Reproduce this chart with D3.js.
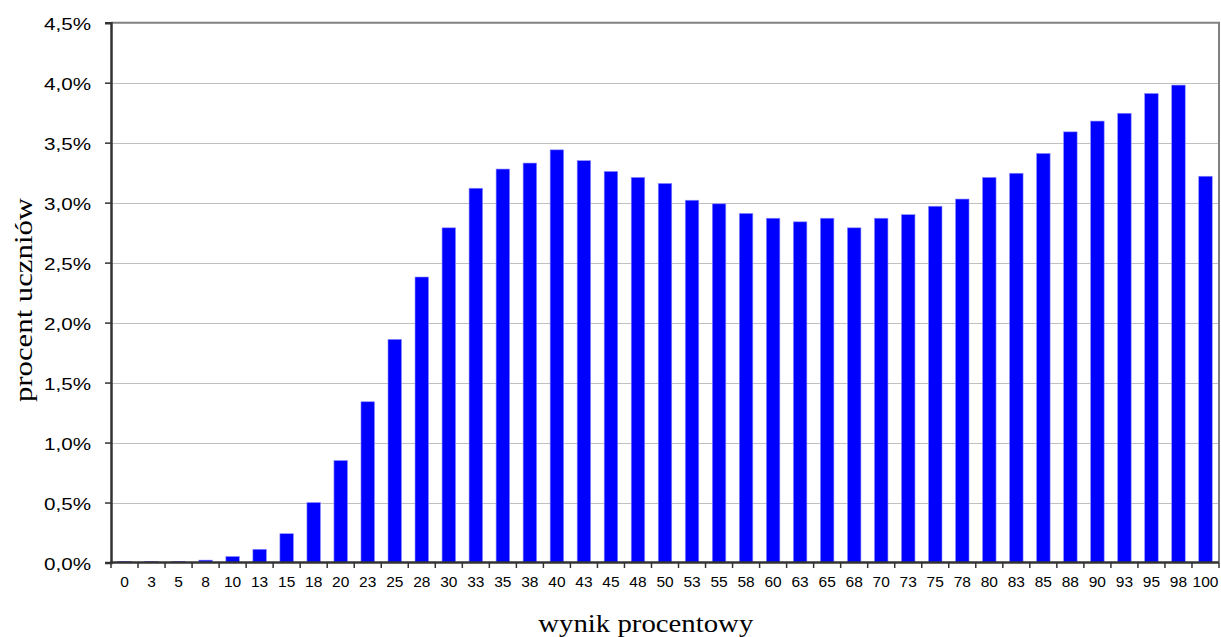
<!DOCTYPE html>
<html>
<head>
<meta charset="utf-8">
<script src="https://cdn.jsdelivr.net/npm/d3@7"></script>
<style>
  html, body { margin: 0; padding: 0; background: #fff; }
  svg { display: block; }
</style>
</head>
<body>
<svg id="chart" width="1221" height="637"></svg>
<script>
const categories = ["0","3","5","8","10","13","15","18","20","23","25","28","30","33","35","38","40","43","45","48","50","53","55","58","60","63","65","68","70","73","75","78","80","83","85","88","90","93","95","98","100"];
const values = [0.01,0.01,0.01,0.02,0.05,0.11,0.24,0.50,0.85,1.34,1.86,2.38,2.79,3.12,3.28,3.33,3.44,3.35,3.26,3.21,3.16,3.02,2.99,2.91,2.87,2.84,2.87,2.79,2.87,2.90,2.97,3.03,3.21,3.245,3.41,3.59,3.68,3.745,3.91,3.98,3.22];
const yTicks = [0,0.5,1.0,1.5,2.0,2.5,3.0,3.5,4.0,4.5];
const yTitle = "procent uczniów";
const xTitle = "wynik procentowy";

const svg = d3.select("#chart");
const pLeft = 111, pRight = 1219, pTop = 22.7, pBottom = 562.5;

const x = d3.scaleBand().domain(categories).range([pLeft, pRight]).paddingInner(0.5).paddingOuter(0.25);
const y = d3.scaleLinear().domain([0, 4.5]).range([pBottom, pTop]);

// gridlines
svg.append("g").selectAll("line").data(yTicks.filter(t => t > 0 && t < 4.5)).join("line")
  .attr("x1", pLeft).attr("x2", pRight)
  .attr("y1", d => Math.round(y(d)) + 0.5).attr("y2", d => Math.round(y(d)) + 0.5)
  .attr("stroke", "#c0c0c0").attr("stroke-width", 1);

// frame top/right
svg.append("line").attr("x1", pLeft).attr("x2", pRight + 1).attr("y1", pTop).attr("y2", pTop)
  .attr("stroke", "#808080").attr("stroke-width", 2);
svg.append("line").attr("x1", pRight).attr("x2", pRight).attr("y1", pTop).attr("y2", pBottom)
  .attr("stroke", "#808080").attr("stroke-width", 2);

// bars
svg.append("g").selectAll("rect").data(values).join("rect")
  .attr("x", (d, i) => x(categories[i]))
  .attr("width", x.bandwidth())
  .attr("y", d => y(d))
  .attr("height", d => y(0) - y(d))
  .attr("fill", "#0000ff")
  .attr("stroke", "#8c8cff").attr("stroke-width", 0.6);

// y axis
const yAxis = svg.append("g").attr("transform", `translate(${pLeft},0)`)
  .call(d3.axisLeft(y).tickValues(yTicks).tickSize(6).tickFormat(d => d3.format(".1f")(d).replace(".", ",") + "%"));
yAxis.select(".domain").attr("stroke", "#333").attr("stroke-width", 2.5);
yAxis.selectAll(".tick line").attr("stroke", "#333").attr("stroke-width", 1.5);
yAxis.selectAll(".tick text")
  .attr("x", -20).attr("dy", "0.45em")
  .attr("font-family", "Liberation Sans, Arial, sans-serif").attr("font-size", 16)
  .attr("fill", "#000")
  .attr("textLength", 47).attr("lengthAdjust", "spacingAndGlyphs");

// x axis
const boundaries = d3.range(categories.length + 1);
const xAxisG = svg.append("g");
xAxisG.append("line").attr("x1", pLeft - 1).attr("x2", pRight).attr("y1", pBottom).attr("y2", pBottom)
  .attr("stroke", "#333").attr("stroke-width", 2.5);
xAxisG.selectAll("line.tk").data(boundaries).join("line").attr("class", "tk")
  .attr("x1", i => pLeft + (pRight - pLeft) * i / categories.length)
  .attr("x2", i => pLeft + (pRight - pLeft) * i / categories.length)
  .attr("y1", pBottom).attr("y2", pBottom + 5.5)
  .attr("stroke", "#333").attr("stroke-width", 1.5);
xAxisG.selectAll("text").data(categories).join("text")
  .attr("x", d => x(d) + x.bandwidth() / 2)
  .attr("y", 587.3)
  .attr("text-anchor", "middle")
  .attr("font-family", "Liberation Sans, Arial, sans-serif").attr("font-size", 15.5)
  .attr("fill", "#000")
  .text(d => d);

// titles
svg.append("text").attr("x", 645.8).attr("y", 631.5).attr("text-anchor", "middle")
  .attr("font-family", "Liberation Serif, Times New Roman, serif").attr("font-size", 25)
  .attr("textLength", 215).attr("lengthAdjust", "spacingAndGlyphs")
  .text(xTitle);
svg.append("text").attr("transform", "translate(32,300) rotate(-90)").attr("text-anchor", "middle")
  .attr("font-family", "Liberation Serif, Times New Roman, serif").attr("font-size", 25)
  .attr("textLength", 204).attr("lengthAdjust", "spacingAndGlyphs")
  .text(yTitle);
</script>
</body>
</html>
